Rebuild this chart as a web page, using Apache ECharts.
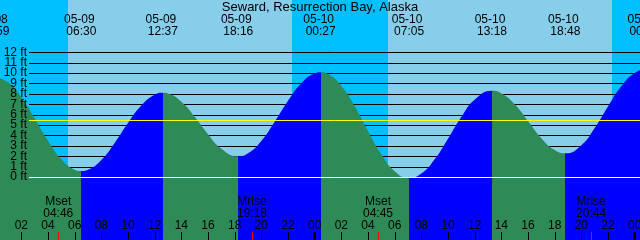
<!DOCTYPE html>
<html><head><meta charset="utf-8">
<script src="https://cdn.jsdelivr.net/npm/echarts@6/dist/echarts.min.js"></script>
<style>html,body{margin:0;padding:0;background:#fff}#c{width:640px;height:240px}</style>
</head><body><div id="c"></div>
<script>
// ---------------- DATA ----------------
const stationTitle = 'Seward, Resurrection Bay, Alaska';

// tide extremes (High / Low)
const tideEventDate   = ['05-08','05-09','05-09','05-09','05-10','05-10','05-10','05-10','05-11'];
const tideEventTime   = ['23:59','06:30','12:37','18:16','00:27','07:05','13:18','18:48','00:44'];
const tideEventType   = ['High','Low','High','Low','High','Low','High','Low','High'];
const tideEventFeet   = [9.65, 0.58, 8.10, 2.00, 10.07, -0.10, 8.30, 2.28, 10.30];

// tide curve read hourly (hours since 05-09 00:00) and heights in ft
const curveHours = [1,2,3,4,5,6,7,8,9,10,11,12,13,14,15,16,17,19,20,21,22,23,24,25,26,27,28,29,30,32,33,34,35,36,38,39,40,41,42,44,45,46,47,48,49];
const curveFeet  = [9.12,7.67,5.64,3.49,1.71,0.71,0.70,1.64,3.28,5.19,6.87,7.91,8.03,7.24,5.79,4.12,2.73,2.28,3.47,5.31,7.33,9.03,9.97,9.90,8.76,6.80,4.43,2.18,0.56,0.34,1.72,3.69,5.77,7.43,8.06,6.99,5.38,3.74,2.59,3.06,4.71,6.79,8.73,10.00,10.28];

// moon events
const moonEventName = ['Mset','Mrise','Mset','Mrise'];
const moonEventDate = ['05-09','05-09','05-10','05-10'];
const moonEventTime = ['04:46','19:18','04:45','20:44'];

// sun events (background day/night)
const sunEventType = ['rise','set','rise','set'];
const sunEventDate = ['05-09','05-09','05-10','05-10'];
const sunEventTime = ['05:30','22:18','05:30','22:18'];

// axes
const ftLevels  = [0,1,2,3,4,5,6,7,8,9,10,11,12];
const meanLevelFt = 5.45;
const hourTicks = [2,4,6,8,10,12,14,16,18,20,22,24,26,28,30,32,34,36,38,40,42,44,46,48];
const viewStart = ['05-09','00:24'];
const viewEnd   = ['05-11','00:24'];
const yRange = [-6.06, 17.03];

// ---------------- HELPERS ----------------
function toHours(date, time) {
  const d = parseInt(date.slice(3), 10);
  const p = time.split(':').map(Number);
  return (d - 9) * 24 + p[0] + p[1] / 60;
}
const FONT = '12px "Liberation Sans", Arial, sans-serif';
const C_DAY = '#87CEEB', C_NIGHT = '#00BFFF', C_FALL = '#2E8B57', C_RISE = '#0000FF';

const xMin = toHours(viewStart[0], viewStart[1]);
const xMax = toHours(viewEnd[0], viewEnd[1]);
const evHours = tideEventDate.map((d, i) => toHours(d, tideEventTime[i]));

const tideData = [];
curveHours.forEach((h, i) => tideData.push([h, curveFeet[i]]));
evHours.forEach((h, i) => tideData.push([h, tideEventFeet[i]]));
tideData.sort((a, b) => a[0] - b[0]);

// colour pieces: falling after a High, rising after a Low
const pieces = [];
const n = evHours.length;
pieces.push({ lt: evHours[0], color: tideEventType[0] === 'High' ? C_RISE : C_FALL });
for (let i = 0; i < n - 1; i++) {
  pieces.push({ gte: evHours[i], lt: evHours[i + 1], color: tideEventType[i] === 'High' ? C_FALL : C_RISE });
}
pieces.push({ gte: evHours[n - 1], color: tideEventType[n - 1] === 'High' ? C_FALL : C_RISE });

// night bands
const sunHours = sunEventDate.map((d, i) => toHours(d, sunEventTime[i]));
const nightBands = [];
let start = xMin - 1;
sunEventType.forEach((t, i) => {
  if (t === 'rise') { nightBands.push([start, sunHours[i]]); }
  else { start = sunHours[i]; }
});
if (sunEventType[sunEventType.length - 1] === 'set') nightBands.push([start, xMax + 1]);

const pad2 = v => (v < 10 ? '0' : '') + v;

// ---------------- CHART ----------------
const chart = echarts.init(document.getElementById('c'), null, { renderer: 'canvas' });
chart.setOption({
  animation: false,
  backgroundColor: C_DAY,
  title: {
    text: stationTitle, left: 'center', top: 0, padding: [0, 0, 0, 0], z: 50,
    textStyle: { fontSize: 13, fontWeight: 'normal', fontFamily: '"Liberation Sans", Arial, sans-serif', color: '#000', lineHeight: 14 }
  },
  grid: { left: 0, right: 0, top: 0, bottom: 0, show: true, backgroundColor: C_DAY, borderWidth: 0 },
  xAxis: { type: 'value', min: xMin, max: xMax, show: false },
  yAxis: { type: 'value', min: yRange[0], max: yRange[1], show: false },
  visualMap: { type: 'piecewise', show: false, dimension: 0, seriesIndex: 2, pieces: pieces },
  series: [
    { // night bands
      type: 'custom', z: 1, silent: true, clip: true,
      data: nightBands,
      renderItem: function (params, api) {
        const p1 = api.coord([api.value(0), yRange[1]]);
        const p2 = api.coord([api.value(1), yRange[0]]);
        const x1 = Math.round(p1[0]), x2 = Math.round(p2[0]);
        return { type: 'rect', shape: { x: x1, y: p1[1], width: x2 - x1, height: p2[1] - p1[1] }, style: { fill: C_NIGHT } };
      }
    },
    { // foot grid lines
      type: 'custom', z: 2, silent: true, clip: false,
      data: ftLevels.filter(v => v > 0).map(v => [xMin, v]),
      renderItem: function (params, api) {
        const cs = params.coordSys;
        const y = Math.round(api.coord([xMin, api.value(1)])[1]) + 0.5;
        return { type: 'line', shape: { x1: cs.x + 29, y1: y, x2: cs.x + cs.width, y2: y }, style: { stroke: '#000', lineWidth: 1 } };
      }
    },
    { // tide curve
      type: 'line', z: 3, silent: true, smooth: 0.5, showSymbol: false,
      data: tideData,
      lineStyle: { width: 0 },
      areaStyle: { origin: 'start', opacity: 1 }
    },
    { // zero + mean lines
      type: 'custom', z: 4, silent: true, clip: false,
      data: [[xMin, 0, 0], [xMin, meanLevelFt, 1]],
      renderItem: function (params, api) {
        const cs = params.coordSys;
        const y = Math.round(api.coord([xMin, api.value(1)])[1]) + 0.5;
        return { type: 'line', shape: { x1: cs.x + 29, y1: y, x2: cs.x + cs.width, y2: y }, style: { stroke: api.value(2) ? '#FFFF00' : '#FFFFFF', lineWidth: 1 } };
      }
    },
    { // foot labels
      type: 'custom', z: 5, silent: true, clip: false,
      data: ftLevels.map(v => [xMin, v]),
      renderItem: function (params, api) {
        const cs = params.coordSys;
        const y = api.coord([xMin, api.value(1)])[1];
        return { type: 'text', x: cs.x + 27, y: y, style: { text: api.value(1) + ' ft', font: FONT, fill: '#000', align: 'right', verticalAlign: 'middle' } };
      }
    },
    { // tide event labels
      type: 'custom', z: 5, silent: true, clip: false,
      data: evHours.map((h, i) => [h, 0, i]),
      renderItem: function (params, api) {
        const cs = params.coordSys;
        const i = api.value(2);
        const x = api.coord([api.value(0), 0])[0];
        return { type: 'group', children: [
          { type: 'text', x: x - 2, y: cs.y + 19.5, style: { text: tideEventDate[i], font: FONT, fill: '#000', align: 'center', verticalAlign: 'middle' } },
          { type: 'text', x: x, y: cs.y + 31.8, style: { text: tideEventTime[i], font: FONT, fill: '#000', align: 'center', verticalAlign: 'middle' } }
        ] };
      }
    },
    { // moon events
      type: 'custom', z: 5, silent: true, clip: false,
      data: moonEventDate.map((d, i) => [toHours(d, moonEventTime[i]), 0, i]),
      renderItem: function (params, api) {
        const cs = params.coordSys;
        const i = api.value(2);
        const x = api.coord([api.value(0), 0])[0];
        const bottom = cs.y + cs.height;
        const xr = Math.round(x);
        return { type: 'group', children: [
          { type: 'text', x: x, y: cs.y + 201.5, style: { text: moonEventName[i], font: FONT, fill: '#000', align: 'center', verticalAlign: 'middle' } },
          { type: 'text', x: x, y: cs.y + 213.5, style: { text: moonEventTime[i], font: FONT, fill: '#000', align: 'center', verticalAlign: 'middle' } },
          { type: 'rect', shape: { x: xr, y: bottom - 8, width: 1, height: 8 }, style: { fill: '#FF0000' } }
        ] };
      }
    },
    { // hour ticks and labels
      type: 'custom', z: 5, silent: true, clip: false,
      data: hourTicks.map(h => [h, 0]),
      renderItem: function (params, api) {
        const cs = params.coordSys;
        const h = api.value(0);
        const x = api.coord([h, 0])[0];
        const bottom = cs.y + cs.height;
        const midnight = h % 24 === 0;
        const xr = Math.round(x);
        return { type: 'group', children: [
          { type: 'text', x: x, y: cs.y + 225.5, style: { text: pad2(h % 24), font: FONT, fill: '#000', align: 'center', verticalAlign: 'middle' } },
          { type: 'rect', shape: { x: midnight ? xr - 2 : xr, y: bottom - 8, width: midnight ? 3 : 1, height: 8 }, style: { fill: '#000' } }
        ] };
      }
    }
  ]
});
</script>
</body></html>
